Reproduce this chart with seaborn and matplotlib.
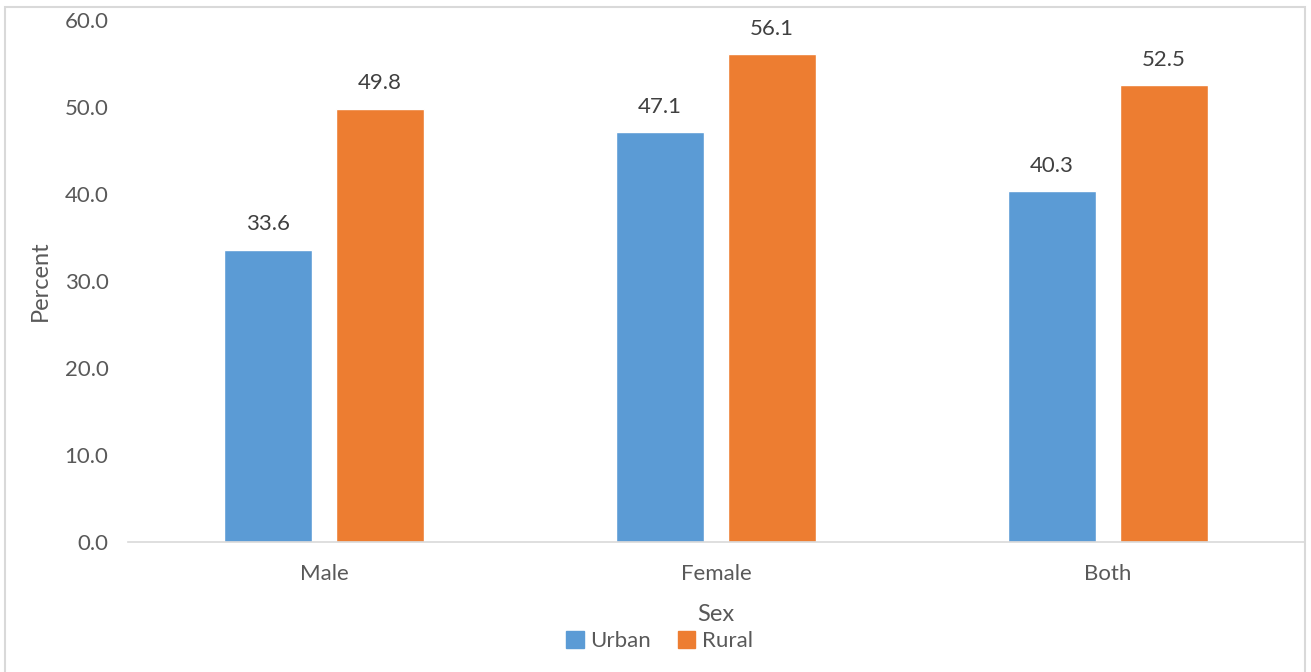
import matplotlib
matplotlib.use("Agg")
import matplotlib.pyplot as plt
import seaborn as sns
import pandas as pd
from matplotlib.patches import Rectangle

categories = ["Male", "Female", "Both"]
urban = [33.6, 47.1, 40.3]
rural = [49.8, 56.1, 52.5]
series = ["Urban", "Rural"]
yticks = [0, 10, 20, 30, 40, 50, 60]

df = pd.DataFrame({
    "Sex": categories * 2,
    "Area": ["Urban"] * 3 + ["Rural"] * 3,
    "Percent": urban + rural,
})

sns.set_theme(style="white")
plt.rcParams["font.family"] = ["Lato", "DejaVu Sans"]
txt = "#595959"

fig = plt.figure(figsize=(13.11, 6.72), dpi=100)
ax = fig.add_axes([0.0976, 0.1935, 0.897, 0.7767])

sns.barplot(data=df, x="Sex", y="Percent", hue="Area", hue_order=series,
            palette={"Urban": "#5B9BD5", "Rural": "#ED7D31"},
            width=0.571, gap=0.215, ax=ax, saturation=1, legend=False)

for cont in ax.containers:
    ax.bar_label(cont, labels=[f"{v:.1f}" for v in cont.datavalues],
                 padding=11, fontsize=16, color="#404040")

ax.set_ylim(0, 60)
ax.set_xlim(-0.5, 2.5)
ax.set_yticks(yticks)
ax.set_yticklabels([f"{v:.1f}" for v in yticks], fontsize=16, color=txt)
ax.set_xticks(range(3))
ax.set_xticklabels(categories, fontsize=16, color=txt)
ax.tick_params(axis="x", length=0, pad=16)
ax.tick_params(axis="y", length=0, pad=14)
ax.set_ylabel("Percent", fontsize=17, color=txt, labelpad=10)
ax.set_xlabel("Sex", fontsize=17, color=txt, labelpad=14)
for s in ["top", "right", "left"]:
    ax.spines[s].set_visible(False)
ax.spines["bottom"].set_color("#D9D9D9")
ax.spines["bottom"].set_linewidth(1.2)

handles = [Rectangle((0, 0), 1, 1, color="#5B9BD5"), Rectangle((0, 0), 1, 1, color="#ED7D31")]
fig.legend(handles, series, loc="center", bbox_to_anchor=(0.503, 0.046), ncol=2,
           frameon=False, fontsize=16, handlelength=0.8, handleheight=0.8,
           handletextpad=0.3, columnspacing=1.2, labelcolor=txt)

fig.patches.append(Rectangle((5 / 1311, -0.01), 1300 / 1311, 1 - 7 / 672 + 0.01,
                             transform=fig.transFigure, fill=False,
                             edgecolor="#D9D9D9", linewidth=1.5))

fig.savefig("out.png", dpi=100)
